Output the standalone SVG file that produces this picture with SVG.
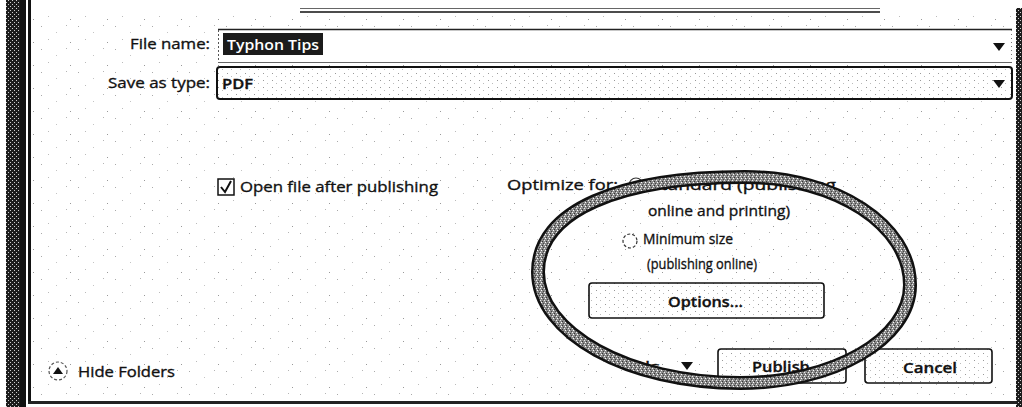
<svg xmlns="http://www.w3.org/2000/svg" width="1022" height="407" viewBox="0 0 1022 407">
<style>
.t{font-family:"Open Sans","Noto Sans","Liberation Sans",sans-serif;font-size:15px;fill:#111;stroke:#111;stroke-width:0.35}
.sb{font-weight:600}
.btn{fill:url(#dots);stroke:#111;stroke-width:1.6}
.arrow{fill:#111}
</style>
<defs>
  <!-- dark scan-hatched frame strip -->
  <pattern id="hatch" width="4" height="4" patternUnits="userSpaceOnUse">
    <rect width="4" height="4" fill="#1c1c1c"/>
    <rect x="0" y="0" width="1" height="1" fill="#cfcfcf"/>
    <rect x="2" y="2" width="1" height="1" fill="#cfcfcf"/>
  </pattern>
  <!-- grainy grey fill of the marker oval -->
  <pattern id="grain" width="4" height="4" patternUnits="userSpaceOnUse">
    <rect width="4" height="4" fill="#8a8a8a"/>
    <rect x="0" y="0" width="1" height="1" fill="#eee"/>
    <rect x="2" y="1" width="1" height="1" fill="#333"/>
    <rect x="1" y="2" width="1" height="1" fill="#fff"/>
    <rect x="3" y="3" width="1" height="1" fill="#444"/>
  </pattern>
  <!-- light dither used inside fields and buttons -->
  <pattern id="dots" width="9" height="7" patternUnits="userSpaceOnUse">
    <rect width="9" height="7" fill="#fff"/>
    <rect x="2" y="3" width="1" height="1" fill="#999"/>
    <rect x="6" y="6" width="1" height="1" fill="#bbb"/>
  </pattern>
  <!-- sparse, irregular speckle on the dialog background -->
  <pattern id="speck" width="37" height="23" patternUnits="userSpaceOnUse">
    <rect x="4" y="3" width="1" height="1" fill="#aaa"/>
    <rect x="19" y="9" width="1" height="1" fill="#c4c4c4"/>
    <rect x="29" y="2" width="1" height="1" fill="#b5b5b5"/>
    <rect x="11" y="16" width="1" height="1" fill="#bbb"/>
    <rect x="33" y="19" width="1" height="1" fill="#999"/>
  </pattern>
</defs>

<!-- dialog background -->
<rect width="1022" height="407" fill="#fff"/>
<rect x="32" y="14" width="982" height="386" fill="url(#speck)"/>

<!-- window frame -->
<g id="frame">
  <rect x="6" y="0" width="14" height="407" fill="url(#hatch)"/>
  <rect x="20" y="0" width="6" height="407" fill="#111"/>
  <rect x="28" y="0" width="3" height="404" fill="#111"/>
  <rect x="28" y="401" width="990" height="3" fill="#222"/>
  <rect x="1016" y="8" width="6" height="399" fill="url(#hatch)"/>
  <line x1="300" y1="8.5" x2="880" y2="8.5" stroke="#666" stroke-width="1"/>
  <line x1="300" y1="12" x2="880" y2="12" stroke="#111" stroke-width="1.5"/>
</g>

<!-- file name row -->
<g id="file-name">
  <text class="t" x="130" y="49" textLength="80" lengthAdjust="spacingAndGlyphs">File name:</text>
  <rect x="218" y="29" width="794" height="34" fill="#fff"/>
  <line x1="218" y1="29.5" x2="1012" y2="29.5" stroke="#222" stroke-width="1.5"/>
  <line x1="218.5" y1="30" x2="218.5" y2="62" stroke="#555" stroke-dasharray="2 2"/>
  <line x1="1011.5" y1="30" x2="1011.5" y2="62" stroke="#777" stroke-dasharray="1 3"/>
  <line x1="218" y1="62.5" x2="1012" y2="62.5" stroke="#666" stroke-width="1.2"/>
  <rect x="223" y="33" width="100" height="22" fill="#1b1b1b"/>
  <text class="t sb" x="227" y="50" style="fill:#fff;stroke:none" textLength="92" lengthAdjust="spacingAndGlyphs">Typhon Tips</text>
  <polygon class="arrow" points="993,43 1005,43 999,51"/>
</g>

<!-- save as type row -->
<g id="save-as-type">
  <text class="t" x="108" y="88" textLength="102" lengthAdjust="spacingAndGlyphs">Save as type:</text>
  <rect x="217" y="67" width="795" height="32" rx="3" fill="url(#dots)" stroke="#111" stroke-width="2"/>
  <text class="t sb" x="222" y="89" textLength="31" lengthAdjust="spacingAndGlyphs">PDF</text>
  <polygon class="arrow" points="993,80 1005,80 999,88"/>
</g>

<!-- open file checkbox -->
<g id="open-file">
  <rect x="218" y="179" width="16" height="16" fill="#fff" stroke="#111" stroke-width="1.5"/>
  <path d="M221,187 L225,192 L231,181" fill="none" stroke="#111" stroke-width="2"/>
  <text class="t" x="240" y="192" textLength="198" lengthAdjust="spacingAndGlyphs">Open file after publishing</text>
</g>

<!-- optimize options -->
<g id="optimize">
  <text class="t" x="507" y="190" textLength="111" lengthAdjust="spacingAndGlyphs">Optimize for:</text>
  <circle cx="636" cy="185" r="7" fill="#fff" stroke="#333" stroke-width="1.2"/>
  <text class="t" x="650" y="190" textLength="186" lengthAdjust="spacingAndGlyphs">Standard (publishing</text>
  <text class="t" x="648" y="216" textLength="142" lengthAdjust="spacingAndGlyphs">online and printing)</text>
  <circle cx="630" cy="241" r="7" fill="#fff" stroke="#333" stroke-width="1.2" stroke-dasharray="3 2"/>
  <text class="t" x="643" y="244" textLength="90" lengthAdjust="spacingAndGlyphs">Minimum size</text>
  <text class="t" x="647" y="269" textLength="110" lengthAdjust="spacingAndGlyphs">(publishing online)</text>
</g>

<!-- options button -->
<g id="options-button">
  <rect class="btn" x="589" y="283" width="235" height="35" rx="3"/>
  <text class="t sb" x="668" y="307" textLength="75" lengthAdjust="spacingAndGlyphs">Options...</text>
</g>

<!-- tools menu -->
<g id="tools">
  <text class="t" x="645" y="372" textLength="15" lengthAdjust="spacingAndGlyphs">ls</text>
  <polygon class="arrow" points="681,362 693,362 687,370"/>
</g>

<!-- publish button -->
<g id="publish-button">
  <rect class="btn" x="718" y="349" width="128" height="34" rx="3"/>
  <text class="t sb" x="752" y="372" textLength="58" lengthAdjust="spacingAndGlyphs">Publish</text>
</g>

<!-- cancel button -->
<g id="cancel-button">
  <rect class="btn" x="865" y="349" width="127" height="34" rx="3"/>
  <text class="t sb" x="903" y="373" textLength="54" lengthAdjust="spacingAndGlyphs">Cancel</text>
</g>

<!-- hide folders toggle -->
<g id="hide-folders">
  <circle cx="58" cy="371" r="9" fill="#fff" stroke="#555" stroke-width="1.2" stroke-dasharray="3 2"/>
  <polygon points="53,374 63,374 58,367" fill="#111"/>
  <text class="t" x="78" y="377" textLength="97" lengthAdjust="spacingAndGlyphs">Hide Folders</text>
</g>

<!-- hand-drawn marker oval around the optimisation options -->
<g id="connectors">
  <path d="M745,177 C836,177 910,225 910,285 C910,339 834,383 740,383 C628,383 538,333 538,272 C538,210 620,177 745,177 Z"
        fill="none" stroke="#111" stroke-width="14"/>
  <path d="M745,177 C836,177 910,225 910,285 C910,339 834,383 740,383 C628,383 538,333 538,272 C538,210 620,177 745,177 Z"
        fill="none" stroke="url(#grain)" stroke-width="9"/>
</g>
</svg>
